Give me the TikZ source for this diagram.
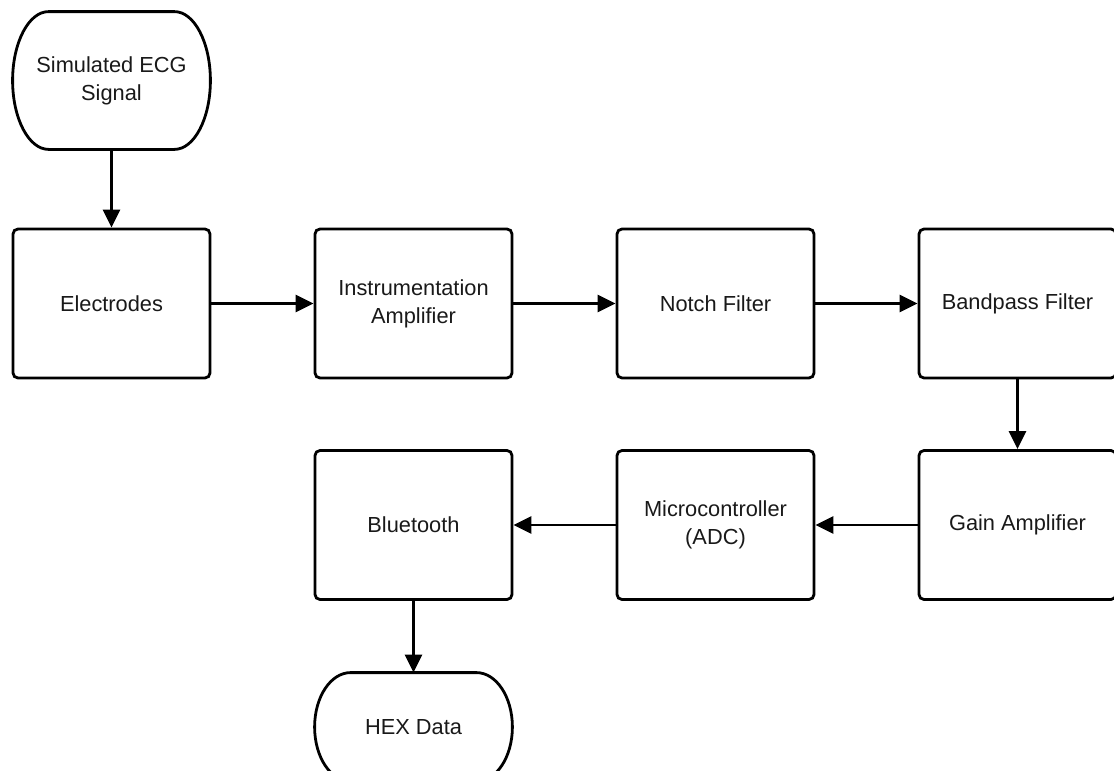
\documentclass[tikz,border=0pt]{standalone}
\usepackage{fontspec}
\setmainfont{Liberation Sans}
\usetikzlibrary{arrows.meta,calc}

\begin{document}
\begin{tikzpicture}[x=0.5pt,y=-0.5pt,
    block/.style={draw, line width=1.4pt, rounded corners=2.5pt,
      minimum width=98.5pt, minimum height=74.5pt, align=center,
      inner sep=2pt, text=black!90},
    terminal/.style={minimum width=98.5pt, align=center, inner sep=2pt,
      text=black!90},
    flow/.style={line width=1.4pt, -{Triangle[length=9pt,width=8.5pt]}}]
  \fontsize{10.9}{14}\selectfont

  % Page has the size of the reference (units are pixels)
  \useasboundingbox (0,0) rectangle (1114,771);

  % Column and row centres
  \def\colA{111.5}
  \def\colB{413.5}
  \def\colC{715.5}
  \def\colD{1017.5}
  \def\rowA{303.5}
  \def\rowB{525}
  \def\endrad{18pt} % x radius of the terminal ends

  % Start and end terminals
  \node[terminal, minimum height=68.5pt] (sim) at (\colA,80.5) {Simulated ECG\\Signal};
  \node[terminal, minimum height=54pt] (hex) at (\colB,727) {HEX Data};

  % Top row of blocks
  \node[block] (elec)  at (\colA,\rowA) {Electrodes};
  \node[block] (inst)  at (\colB,\rowA) {Instrumentation\\Amplifier};
  \node[block] (notch) at (\colC,\rowA) {Notch Filter};
  \node[block] (band)  at (\colD,\rowA) {Bandpass Filter};

  % Bottom row of blocks
  \node[block] (gain) at (\colD,\rowB) {Gain Amplifier};
  \node[block] (mcu)  at (\colC,\rowB) {Microcontroller\\(ADC)};
  \node[block] (bt)   at (\colB,\rowB) {Bluetooth};

  % Terminal outlines with elliptic ends
  \foreach \t in {sim,hex}
    \draw[line width=1.4pt] let \p1=(\t.north), \p2=(\t.south), \n1={(\y1-\y2)/2} in
      ([xshift=\endrad]\t.north west) -- ([xshift=-\endrad]\t.north east)
      arc[start angle=90, end angle=-90, x radius=\endrad, y radius=\n1]
      -- ([xshift=\endrad]\t.south west)
      arc[start angle=270, end angle=90, x radius=\endrad, y radius=\n1];

  % Signal chain
  \draw[flow] (sim) -- (elec);
  \draw[flow] (elec) -- (inst);
  \draw[flow] (inst) -- (notch);
  \draw[flow] (notch) -- (band);
  \draw[flow] (band) -- (gain);
  \draw[flow] (gain) -- (mcu);
  \draw[flow] (mcu) -- (bt);
  \draw[flow] (bt) -- (hex);

\end{tikzpicture}
\end{document}
